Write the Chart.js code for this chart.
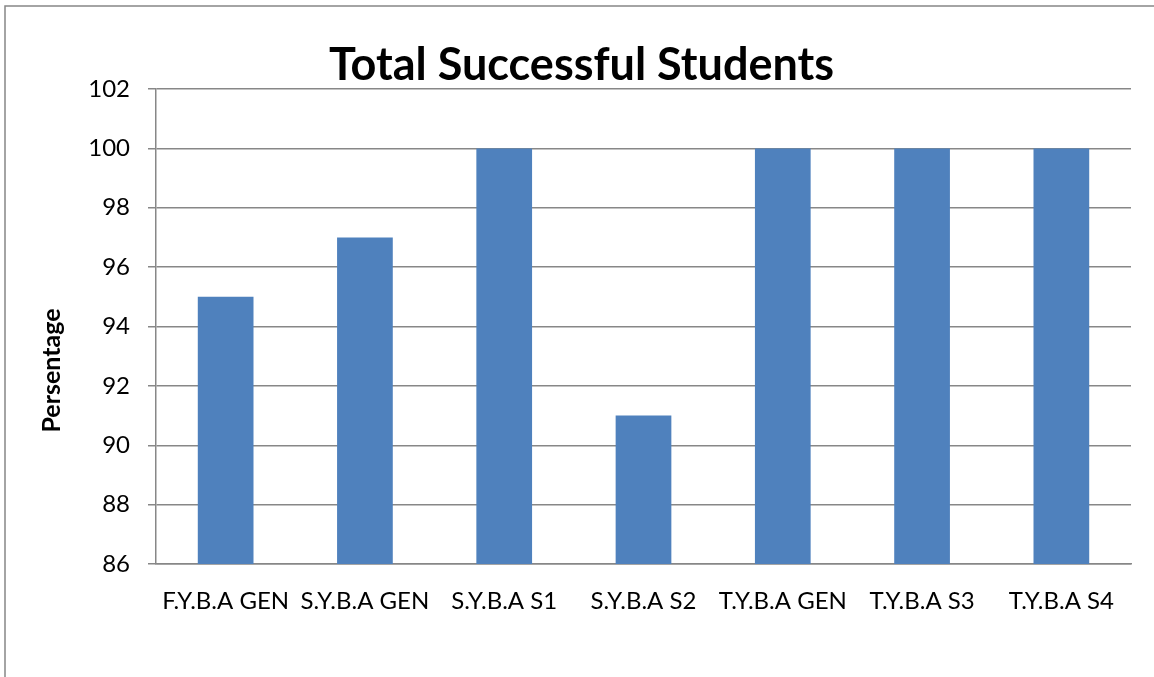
<!DOCTYPE html>
<html>
<head>
<meta charset="utf-8">
<title>Total Successful Students</title>
<script src="https://cdn.jsdelivr.net/npm/chart.js@4"></script>
<style>
  html, body { margin: 0; padding: 0; background: #fff; overflow: hidden; }
  canvas { display: block; }
</style>
</head>
<body>
<canvas id="chart" width="1154" height="677"></canvas>
<script>
const categories = ["F.Y.B.A GEN", "S.Y.B.A GEN", "S.Y.B.A S1", "S.Y.B.A S2", "T.Y.B.A GEN", "T.Y.B.A S3", "T.Y.B.A S4"];
const successPercent = [95, 97, 100, 91, 100, 100, 100];
const yMin = 86, yMax = 102, yStep = 2;
const chartTitle = "Total Successful Students";
const yTitle = "Persentage";

const gray = "#878787";
const fontFamily = "Lato, 'Open Sans', sans-serif";

const frame = {
  id: "frame",
  beforeDraw(chart) {
    const ctx = chart.ctx;
    ctx.save();
    ctx.fillStyle = "#fff";
    ctx.fillRect(0, 0, chart.width, chart.height);
    ctx.strokeStyle = gray;
    ctx.lineWidth = 1.5;
    ctx.beginPath();
    ctx.moveTo(5, chart.height + 5);
    ctx.lineTo(5, 6);
    ctx.lineTo(chart.width + 5, 6);
    ctx.stroke();
    ctx.restore();
  }
};

const yAxisTitle = {
  id: "yAxisTitle",
  afterDraw(chart) {
    const ctx = chart.ctx;
    const area = chart.chartArea;
    ctx.save();
    ctx.translate(52, (area.top + area.bottom) / 2 + 44);
    ctx.rotate(-Math.PI / 2);
    ctx.font = "bold 25px " + fontFamily;
    ctx.fillStyle = "#000";
    ctx.textAlign = "center";
    ctx.textBaseline = "middle";
    ctx.fillText(yTitle, 0, 0);
    ctx.restore();
  }
};

new Chart(document.getElementById("chart"), {
  type: "bar",
  data: {
    labels: categories,
    datasets: [{
      label: "Percentage",
      data: successPercent,
      backgroundColor: "#4F81BD",
      borderWidth: 0,
      barPercentage: 0.4,
      categoryPercentage: 1
    }]
  },
  options: {
    responsive: false,
    animation: false,
    devicePixelRatio: 1,
    layout: { padding: { left: 32, right: 23, top: 0, bottom: 0 } },
    plugins: {
      legend: { display: false },
      tooltip: { enabled: false },
      title: {
        display: true,
        text: chartTitle,
        color: "#000",
        font: { family: fontFamily, size: 45, weight: "bold", lineHeight: 1 },
        padding: { top: 43, bottom: 1 }
      }
    },
    scales: {
      x: {
        grid: { display: false },
        border: { display: true, color: gray, width: 1.5 },
        ticks: { color: "#000", font: { family: fontFamily, size: 24 }, padding: 15, maxRotation: 0, autoSkip: false },
        afterFit(scale) { scale.height = 113; }
      },
      y: {
        min: yMin,
        max: yMax,
        ticks: { stepSize: yStep, color: "#000", font: { family: fontFamily, size: 24 }, padding: 18 },
        grid: { color: gray, lineWidth: 1.5, tickLength: 8, drawTicks: true },
        border: { display: true, color: gray, width: 1.5 },
        afterFit(scale) { scale.width = 124; }
      }
    }
  },
  plugins: [frame, yAxisTitle]
});
</script>
</body>
</html>
